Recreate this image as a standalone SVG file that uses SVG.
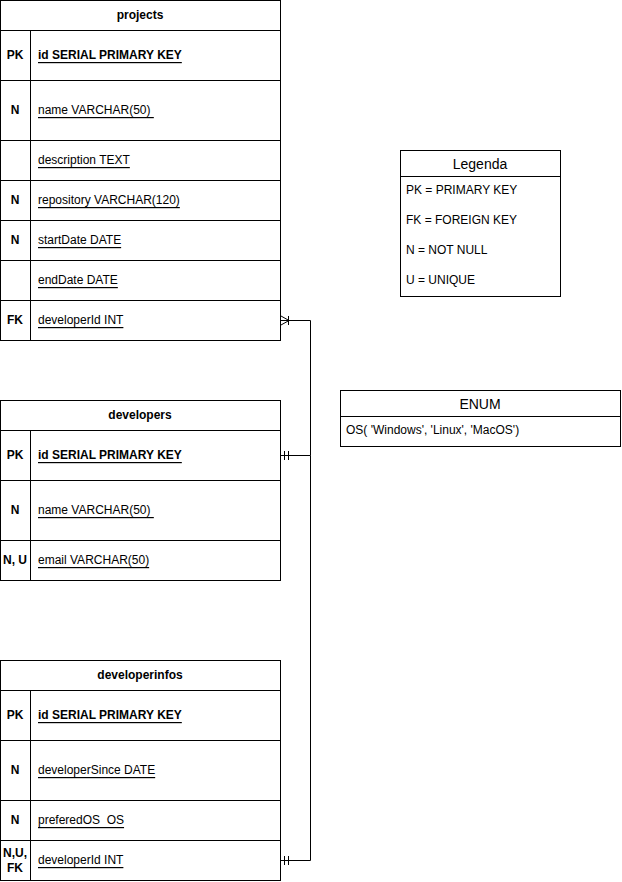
<svg xmlns="http://www.w3.org/2000/svg" width="622" height="882" viewBox="0 0 622 882">
<style>
rect,line,path.b{fill:none;stroke:#000;stroke-width:1}
rect.bg{fill:#fff}
text{font-family:"Liberation Sans",Arial,sans-serif;font-size:12px;fill:#000;dominant-baseline:central;white-space:pre}
.h{font-weight:bold;text-anchor:middle}
.k{font-weight:bold;text-anchor:middle}
.f{text-decoration:underline}
.pk{text-decoration:underline;font-weight:bold}
.t{font-size:14px;text-anchor:middle}
.c{fill:none;stroke:#000;stroke-width:1}
</style>
<rect width="622" height="882" fill="#fff" style="stroke:none"/>
<g id="projects">
<rect class="bg" x="0.5" y="0.5" width="280" height="340"/>
<line x1="0.5" y1="30.5" x2="280.5" y2="30.5"/>
<line x1="0.5" y1="80.5" x2="280.5" y2="80.5"/>
<line x1="0.5" y1="140.5" x2="280.5" y2="140.5"/>
<line x1="0.5" y1="180.5" x2="280.5" y2="180.5"/>
<line x1="0.5" y1="220.5" x2="280.5" y2="220.5"/>
<line x1="0.5" y1="260.5" x2="280.5" y2="260.5"/>
<line x1="0.5" y1="300.5" x2="280.5" y2="300.5"/>
<line x1="30.5" y1="30.5" x2="30.5" y2="340.5"/>
<text class="h" x="140" y="15">projects</text>
<text class="k" x="15" y="55">PK</text><text class="pk" x="38" y="55">id SERIAL PRIMARY KEY</text>
<text class="k" x="15" y="110">N</text><text class="f" x="38" y="110" xml:space="preserve">name VARCHAR(50) </text>
<text class="f" x="38" y="160">description TEXT</text>
<text class="k" x="15" y="200">N</text><text class="f" x="38" y="200">repository VARCHAR(120)</text>
<text class="k" x="15" y="240">N</text><text class="f" x="38" y="240">startDate DATE</text>
<text class="f" x="38" y="280">endDate DATE</text>
<text class="k" x="15" y="320">FK</text><text class="f" x="38" y="320">developerId INT</text>
</g>
<g id="developers">
<rect class="bg" x="0.5" y="400.5" width="280" height="180"/>
<line x1="0.5" y1="430.5" x2="280.5" y2="430.5"/>
<line x1="0.5" y1="480.5" x2="280.5" y2="480.5"/>
<line x1="0.5" y1="540.5" x2="280.5" y2="540.5"/>
<line x1="30.5" y1="430.5" x2="30.5" y2="580.5"/>
<text class="h" x="140" y="415">developers</text>
<text class="k" x="15" y="455">PK</text><text class="pk" x="38" y="455">id SERIAL PRIMARY KEY</text>
<text class="k" x="15" y="510">N</text><text class="f" x="38" y="510" xml:space="preserve">name VARCHAR(50) </text>
<text class="k" x="15" y="560">N, U</text><text class="f" x="38" y="560">email VARCHAR(50)</text>
</g>
<g id="developerinfos">
<rect class="bg" x="0.5" y="660.5" width="280" height="220"/>
<line x1="0.5" y1="690.5" x2="280.5" y2="690.5"/>
<line x1="0.5" y1="740.5" x2="280.5" y2="740.5"/>
<line x1="0.5" y1="800.5" x2="280.5" y2="800.5"/>
<line x1="0.5" y1="840.5" x2="280.5" y2="840.5"/>
<line x1="30.5" y1="690.5" x2="30.5" y2="880.5"/>
<text class="h" x="140" y="675">developerinfos</text>
<text class="k" x="15" y="715">PK</text><text class="pk" x="38" y="715">id SERIAL PRIMARY KEY</text>
<text class="k" x="15" y="770">N</text><text class="f" x="38" y="770">developerSince DATE</text>
<text class="k" x="15" y="820">N</text><text class="f" x="38" y="820" xml:space="preserve">preferedOS  OS</text>
<text class="k" x="15" y="853">N,U,</text><text class="k" x="15" y="868">FK</text>
<text class="f" x="38" y="860">developerId INT</text>
</g>
<g id="legenda">
<rect class="bg" x="400.5" y="150.5" width="160" height="146"/>
<line x1="400.5" y1="176.5" x2="560.5" y2="176.5"/>
<text class="t" x="480" y="164">Legenda</text>
<text x="406" y="190">PK = PRIMARY KEY</text>
<text x="406" y="220">FK = FOREIGN KEY</text>
<text x="406" y="250">N = NOT NULL</text>
<text x="406" y="280">U = UNIQUE</text>
</g>
<g id="enum">
<rect class="bg" x="340.5" y="390.5" width="280" height="56"/>
<line x1="340.5" y1="416.5" x2="620.5" y2="416.5"/>
<text class="t" x="480" y="404">ENUM</text>
<text x="346" y="430">OS( 'Windows', 'Linux', 'MacOS')</text>
</g>
<g id="connectors">
<path class="c" d="M280.5 455.5 H310.5 V320.5 H280.5"/>
<path class="c" d="M288.5 316 V325 M281 316 L289 320.5 L281 325"/>
<path class="c" d="M310.5 455.5 V860.5 H280.5"/>
<path class="c" d="M284.5 451 V460 M288.5 451 V460"/>
<path class="c" d="M284.5 856 V865 M288.5 856 V865"/>
</g>
</svg>
